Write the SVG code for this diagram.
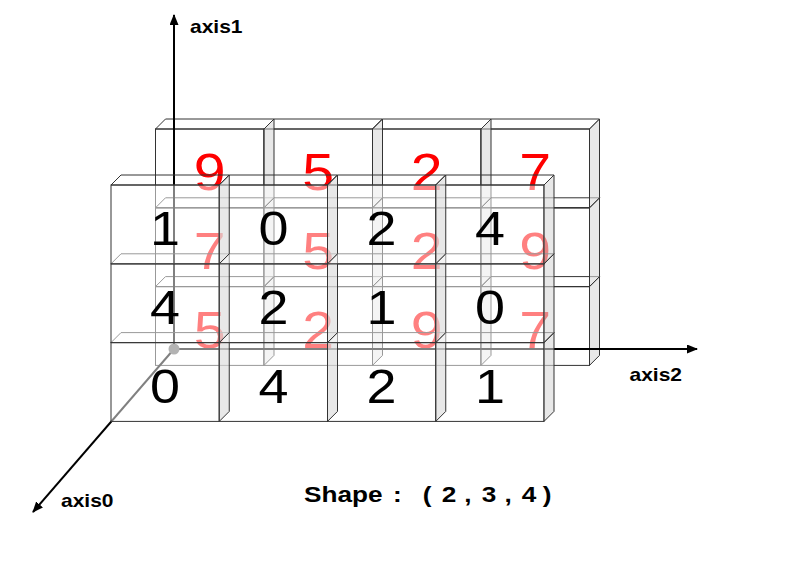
<svg xmlns="http://www.w3.org/2000/svg" width="806" height="565" viewBox="0 0 806 565">
<defs>
<style>
.ff{fill:none;stroke:#333;stroke-width:1}
.front .ff{fill:#fff;fill-opacity:0.5}
.tf{fill:none;stroke:#333;stroke-width:1}
.sf{fill:#d8d8d8;fill-opacity:0.6;stroke:#333;stroke-width:1}
.rd{font-family:"Liberation Sans",Arial,sans-serif;font-size:52px;fill:#f00;text-anchor:middle}
.bk{font-family:"Liberation Sans",Arial,sans-serif;font-size:49px;fill:#000;text-anchor:middle}
.ax{stroke:#000;stroke-width:2;fill:none}
.lbl{font-family:"Liberation Sans",Arial,sans-serif;font-size:17.5px;font-weight:bold;fill:#000}
.shape{font-family:"Liberation Sans",Arial,sans-serif;font-size:22px;font-weight:bold;fill:#000}
</style>
<marker id="arr" markerUnits="userSpaceOnUse" markerWidth="11" markerHeight="9" refX="10" refY="4.5" orient="auto">
<path d="M0,0 L11,4.5 L0,9 z" fill="#000"/>
</marker>
</defs>
<rect width="806" height="565" fill="#fff"/>

<g id="back-layer" class="back">
<g id="b-2-3"><rect class="ff" x="481" y="286.6" width="108.5" height="78.8"/><path class="tf" d="M481,286.6 l10,-10 h108.5 l-10,10 z"/><path class="sf" d="M589.5,286.6 l10,-10 v78.8 l-10,10 z"/><text class="rd" transform="translate(535.25,347.6) scale(1.1,1)">7</text></g>
<g id="b-2-2"><rect class="ff" x="372.5" y="286.6" width="108.5" height="78.8"/><path class="tf" d="M372.5,286.6 l10,-10 h108.5 l-10,10 z"/><path class="sf" d="M481,286.6 l10,-10 v78.8 l-10,10 z"/><text class="rd" transform="translate(426.75,347.6) scale(1.1,1)">9</text></g>
<g id="b-2-1"><rect class="ff" x="264" y="286.6" width="108.5" height="78.8"/><path class="tf" d="M264,286.6 l10,-10 h108.5 l-10,10 z"/><path class="sf" d="M372.5,286.6 l10,-10 v78.8 l-10,10 z"/><text class="rd" transform="translate(318.25,347.6) scale(1.1,1)">2</text></g>
<g id="b-2-0"><rect class="ff" x="155.5" y="286.6" width="108.5" height="78.8"/><path class="tf" d="M155.5,286.6 l10,-10 h108.5 l-10,10 z"/><path class="sf" d="M264,286.6 l10,-10 v78.8 l-10,10 z"/><text class="rd" transform="translate(209.75,347.6) scale(1.1,1)">5</text></g>

<g id="b-1-3"><rect class="ff" x="481" y="207.8" width="108.5" height="78.8"/><path class="tf" d="M481,207.8 l10,-10 h108.5 l-10,10 z"/><path class="sf" d="M589.5,207.8 l10,-10 v78.8 l-10,10 z"/><text class="rd" transform="translate(535.25,268.8) scale(1.1,1)">9</text></g>
<g id="b-1-2"><rect class="ff" x="372.5" y="207.8" width="108.5" height="78.8"/><path class="tf" d="M372.5,207.8 l10,-10 h108.5 l-10,10 z"/><path class="sf" d="M481,207.8 l10,-10 v78.8 l-10,10 z"/><text class="rd" transform="translate(426.75,268.8) scale(1.1,1)">2</text></g>
<g id="b-1-1"><rect class="ff" x="264" y="207.8" width="108.5" height="78.8"/><path class="tf" d="M264,207.8 l10,-10 h108.5 l-10,10 z"/><path class="sf" d="M372.5,207.8 l10,-10 v78.8 l-10,10 z"/><text class="rd" transform="translate(318.25,268.8) scale(1.1,1)">5</text></g>
<g id="b-1-0"><rect class="ff" x="155.5" y="207.8" width="108.5" height="78.8"/><path class="tf" d="M155.5,207.8 l10,-10 h108.5 l-10,10 z"/><path class="sf" d="M264,207.8 l10,-10 v78.8 l-10,10 z"/><text class="rd" transform="translate(209.75,268.8) scale(1.1,1)">7</text></g>

<g id="b-0-3"><rect class="ff" x="481" y="129" width="108.5" height="78.8"/><path class="tf" d="M481,129 l10,-10 h108.5 l-10,10 z"/><path class="sf" d="M589.5,129 l10,-10 v78.8 l-10,10 z"/><text class="rd" transform="translate(535.25,190) scale(1.1,1)">7</text></g>
<g id="b-0-2"><rect class="ff" x="372.5" y="129" width="108.5" height="78.8"/><path class="tf" d="M372.5,129 l10,-10 h108.5 l-10,10 z"/><path class="sf" d="M481,129 l10,-10 v78.8 l-10,10 z"/><text class="rd" transform="translate(426.75,190) scale(1.1,1)">2</text></g>
<g id="b-0-1"><rect class="ff" x="264" y="129" width="108.5" height="78.8"/><path class="tf" d="M264,129 l10,-10 h108.5 l-10,10 z"/><path class="sf" d="M372.5,129 l10,-10 v78.8 l-10,10 z"/><text class="rd" transform="translate(318.25,190) scale(1.1,1)">5</text></g>
<g id="b-0-0"><rect class="ff" x="155.5" y="129" width="108.5" height="78.8"/><path class="tf" d="M155.5,129 l10,-10 h108.5 l-10,10 z"/><path class="sf" d="M264,129 l10,-10 v78.8 l-10,10 z"/><text class="rd" transform="translate(209.75,190) scale(1.1,1)">9</text></g>
</g>

<g id="connectors">
<line class="ax" x1="174" y1="349" x2="174" y2="15" marker-end="url(#arr)"/>
<line class="ax" x1="174" y1="349" x2="697" y2="349" marker-end="url(#arr)"/>
<line class="ax" x1="174" y1="349" x2="33" y2="512" marker-end="url(#arr)"/>
<circle cx="174" cy="349" r="5.5" fill="#666"/>
</g>

<g id="front-layer" class="front">
<g id="f-2-3"><rect class="ff" x="435.75" y="342.6" width="108.25" height="78.8"/><path class="tf" d="M435.75,342.6 l10,-10 h108.25 l-10,10 z"/><path class="sf" d="M544,342.6 l10,-10 v78.8 l-10,10 z"/><text class="bk" transform="translate(489.9,402.6) scale(1.1,1)">1</text></g>
<g id="f-2-2"><rect class="ff" x="327.5" y="342.6" width="108.25" height="78.8"/><path class="tf" d="M327.5,342.6 l10,-10 h108.25 l-10,10 z"/><path class="sf" d="M435.75,342.6 l10,-10 v78.8 l-10,10 z"/><text class="bk" transform="translate(381.6,402.6) scale(1.1,1)">2</text></g>
<g id="f-2-1"><rect class="ff" x="219.25" y="342.6" width="108.25" height="78.8"/><path class="tf" d="M219.25,342.6 l10,-10 h108.25 l-10,10 z"/><path class="sf" d="M327.5,342.6 l10,-10 v78.8 l-10,10 z"/><text class="bk" transform="translate(273.4,402.6) scale(1.1,1)">4</text></g>
<g id="f-2-0"><rect class="ff" x="111" y="342.6" width="108.25" height="78.8"/><path class="tf" d="M111,342.6 l10,-10 h108.25 l-10,10 z"/><path class="sf" d="M219.25,342.6 l10,-10 v78.8 l-10,10 z"/><text class="bk" transform="translate(165.1,402.6) scale(1.1,1)">0</text></g>

<g id="f-1-3"><rect class="ff" x="435.75" y="263.8" width="108.25" height="78.8"/><path class="tf" d="M435.75,263.8 l10,-10 h108.25 l-10,10 z"/><path class="sf" d="M544,263.8 l10,-10 v78.8 l-10,10 z"/><text class="bk" transform="translate(489.9,323.8) scale(1.1,1)">0</text></g>
<g id="f-1-2"><rect class="ff" x="327.5" y="263.8" width="108.25" height="78.8"/><path class="tf" d="M327.5,263.8 l10,-10 h108.25 l-10,10 z"/><path class="sf" d="M435.75,263.8 l10,-10 v78.8 l-10,10 z"/><text class="bk" transform="translate(381.6,323.8) scale(1.1,1)">1</text></g>
<g id="f-1-1"><rect class="ff" x="219.25" y="263.8" width="108.25" height="78.8"/><path class="tf" d="M219.25,263.8 l10,-10 h108.25 l-10,10 z"/><path class="sf" d="M327.5,263.8 l10,-10 v78.8 l-10,10 z"/><text class="bk" transform="translate(273.4,323.8) scale(1.1,1)">2</text></g>
<g id="f-1-0"><rect class="ff" x="111" y="263.8" width="108.25" height="78.8"/><path class="tf" d="M111,263.8 l10,-10 h108.25 l-10,10 z"/><path class="sf" d="M219.25,263.8 l10,-10 v78.8 l-10,10 z"/><text class="bk" transform="translate(165.1,323.8) scale(1.1,1)">4</text></g>

<g id="f-0-3"><rect class="ff" x="435.75" y="185" width="108.25" height="78.8"/><path class="tf" d="M435.75,185 l10,-10 h108.25 l-10,10 z"/><path class="sf" d="M544,185 l10,-10 v78.8 l-10,10 z"/><text class="bk" transform="translate(489.9,245) scale(1.1,1)">4</text></g>
<g id="f-0-2"><rect class="ff" x="327.5" y="185" width="108.25" height="78.8"/><path class="tf" d="M327.5,185 l10,-10 h108.25 l-10,10 z"/><path class="sf" d="M435.75,185 l10,-10 v78.8 l-10,10 z"/><text class="bk" transform="translate(381.6,245) scale(1.1,1)">2</text></g>
<g id="f-0-1"><rect class="ff" x="219.25" y="185" width="108.25" height="78.8"/><path class="tf" d="M219.25,185 l10,-10 h108.25 l-10,10 z"/><path class="sf" d="M327.5,185 l10,-10 v78.8 l-10,10 z"/><text class="bk" transform="translate(273.4,245) scale(1.1,1)">0</text></g>
<g id="f-0-0"><rect class="ff" x="111" y="185" width="108.25" height="78.8"/><path class="tf" d="M111,185 l10,-10 h108.25 l-10,10 z"/><path class="sf" d="M219.25,185 l10,-10 v78.8 l-10,10 z"/><text class="bk" transform="translate(165.1,245) scale(1.1,1)">1</text></g>
</g>

<g id="labels">
<text class="lbl" transform="translate(190,33) scale(1.2,1)">axis1</text>
<text class="lbl" transform="translate(629.5,380.7) scale(1.2,1)">axis2</text>
<text class="lbl" transform="translate(61,506.7) scale(1.2,1)">axis0</text>
<text class="shape" transform="translate(0,501.5) scale(1.19,1)"><tspan x="255.5">Shape</tspan><tspan x="324.2"> :</tspan><tspan x="349.1"> (</tspan><tspan x="365.1"> 2</tspan><tspan x="384.1"> ,</tspan><tspan x="398.7"> 3</tspan><tspan x="417.8"> ,</tspan><tspan x="432.3"> 4</tspan><tspan x="449.9"> )</tspan></text>
</g>
</svg>
